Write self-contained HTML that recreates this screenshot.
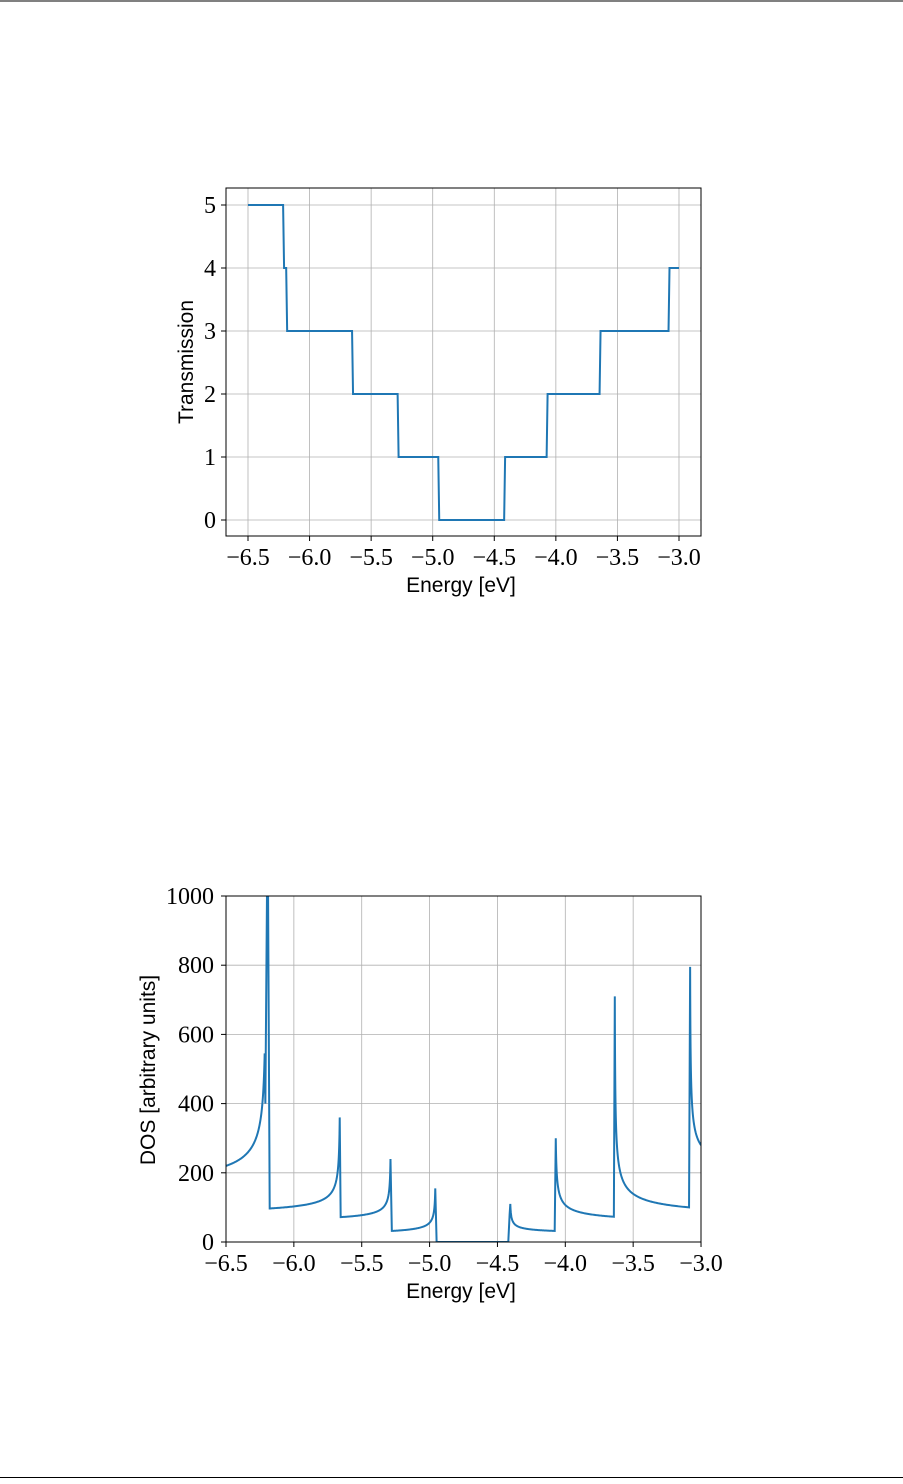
<!DOCTYPE html>
<html><head><meta charset="utf-8"><style>
html,body{margin:0;padding:0;background:#fff;}
svg text{font-family:"Liberation Serif",serif;font-size:24px;fill:#000;}
svg text.lab{font-family:"Liberation Sans",sans-serif;font-size:21px;}
</style></head><body>
<svg id="s" width="903" height="1479" viewBox="0 0 903 1479" xmlns="http://www.w3.org/2000/svg">
<line x1="0" y1="1" x2="903" y2="1" stroke="#000" stroke-width="1"/>
<line x1="0" y1="1477.5" x2="903" y2="1477.5" stroke="#000" stroke-width="1"/>
<g id="g1"></g>
<g id="g2"></g>
<rect x="226" y="188" width="475" height="348" fill="none" stroke="#000" stroke-width="1"/>
<rect x="226" y="896" width="475" height="346" fill="none" stroke="#000" stroke-width="1"/>
<text class="lab" x="461" y="592" text-anchor="middle">Energy [eV]</text>
<text class="lab" transform="translate(193,362) rotate(-90)" text-anchor="middle">Transmission</text>
<text class="lab" x="461" y="1298" text-anchor="middle">Energy [eV]</text>
<text class="lab" transform="translate(155,1070) rotate(-90)" text-anchor="middle">DOS [arbitrary units]</text>
</svg>
<script>
var NS="http://www.w3.org/2000/svg";
function el(p,t,a,txt){var e=document.createElementNS(NS,t);for(var k in a)e.setAttribute(k,a[k]);if(txt!==undefined)e.textContent=txt;p.appendChild(e);return e;}
var g1=document.getElementById('g1'),g2=document.getElementById('g2');
var lbl=['−6.5','−6.0','−5.5','−5.0','−4.5','−4.0','−3.5','−3.0'];
function X1(E){return 248+(E+6.5)*123.14;}
function Y1(v){return 520-v*63;}
for(var i=0;i<8;i++){var x=248+i*61.57;el(g1,'line',{x1:x,y1:188,x2:x,y2:536,stroke:'#b0b0b0','stroke-width':0.8});
el(g1,'line',{x1:x,y1:536,x2:x,y2:541,stroke:'#000'});el(g1,'text',{x:x,y:565,'text-anchor':'middle'},lbl[i]);}
for(var v=0;v<=5;v++){var y=Y1(v);el(g1,'line',{x1:226,y1:y,x2:701,y2:y,stroke:'#b0b0b0','stroke-width':0.8});
el(g1,'line',{x1:221,y1:y,x2:226,y2:y,stroke:'#000'});el(g1,'text',{x:216,y:y+8,'text-anchor':'end'},v);}
var steps=[[-6.5,5],[-6.215,4],[-6.19,3],[-5.655,2],[-5.285,1],[-4.955,0],[-4.42,1],[-4.075,2],[-3.645,3],[-3.085,4]];
var d='M'+X1(-6.5)+' '+Y1(5);
for(var i=1;i<steps.length;i++){d+=' L'+X1(steps[i][0])+' '+Y1(steps[i-1][1])+' L'+X1(steps[i][0]+0.008)+' '+Y1(steps[i][1]);}
d+=' L'+X1(-3.0)+' '+Y1(4);
el(g1,'path',{d:d,fill:'none',stroke:'#1f77b4','stroke-width':2});
function X2(E){return 226+(E+6.5)*135.71;}
function Y2(v){return 1242-v*0.346;}
for(var i=0;i<8;i++){var x=226+i*67.86;el(g2,'line',{x1:x,y1:896,x2:x,y2:1242,stroke:'#b0b0b0','stroke-width':0.8});
el(g2,'line',{x1:x,y1:1242,x2:x,y2:1247,stroke:'#000'});el(g2,'text',{x:x,y:1271,'text-anchor':'middle'},lbl[i]);}
for(var v=0;v<=1000;v+=200){var y=Y2(v);el(g2,'line',{x1:226,y1:y,x2:701,y2:y,stroke:'#b0b0b0','stroke-width':0.8});
el(g2,'line',{x1:221,y1:y,x2:226,y2:y,stroke:'#000'});el(g2,'text',{x:214,y:y+8,'text-anchor':'end'},v);}
var pts=[];
function rise(a,b,va,vb,eps){var n=120,L=b-a,fa=1/Math.sqrt(L+eps),fb=1/Math.sqrt(eps),k=(vb-va)/(fb-fa),base=va-k*fa;
 for(var i=0;i<=n;i++){var t=i/n,E=a+L*(1-Math.pow(1-t,2));pts.push([E,base+k/Math.sqrt(b-E+eps)]);}}
function decay(a,b,va,vb,eps){var n=120,L=b-a,fa=1/Math.sqrt(eps),fb=1/Math.sqrt(L+eps),k=(va-vb)/(fa-fb),base=vb-k*fb;
 for(var i=0;i<=n;i++){var t=i/n,E=a+L*t*t;pts.push([E,base+k/Math.sqrt(E-a+eps)]);}}
rise(-6.5,-6.215,220,545,0.012);pts.push([-6.21,400],[-6.198,1000],[-6.19,1000],[-6.178,97]);
rise(-6.175,-5.662,97,360,0.004);pts.push([-5.655,72]);
rise(-5.652,-5.288,72,240,0.0035);pts.push([-5.278,32]);
rise(-5.275,-4.958,32,155,0.0035);pts.push([-4.948,0],[-4.42,0],[-4.41,80]);
decay(-4.405,-4.078,110,32,0.004);
decay(-4.07,-3.642,300,73,0.004);
decay(-3.635,-3.088,710,100,0.002);
decay(-3.08,-3.0,795,280,0.002);
var d2='';pts.forEach(function(p,i){var v=Math.min(p[1],1000);d2+=(i?' L':'M')+X2(p[0]).toFixed(2)+' '+Y2(v).toFixed(2);});
var cp=el(document.getElementById('s'),'clipPath',{id:'c2'});el(cp,'rect',{x:226,y:896,width:475,height:346});
el(g2,'path',{d:d2,fill:'none',stroke:'#1f77b4','stroke-width':2,'clip-path':'url(#c2)'});
</script>
</body></html>
